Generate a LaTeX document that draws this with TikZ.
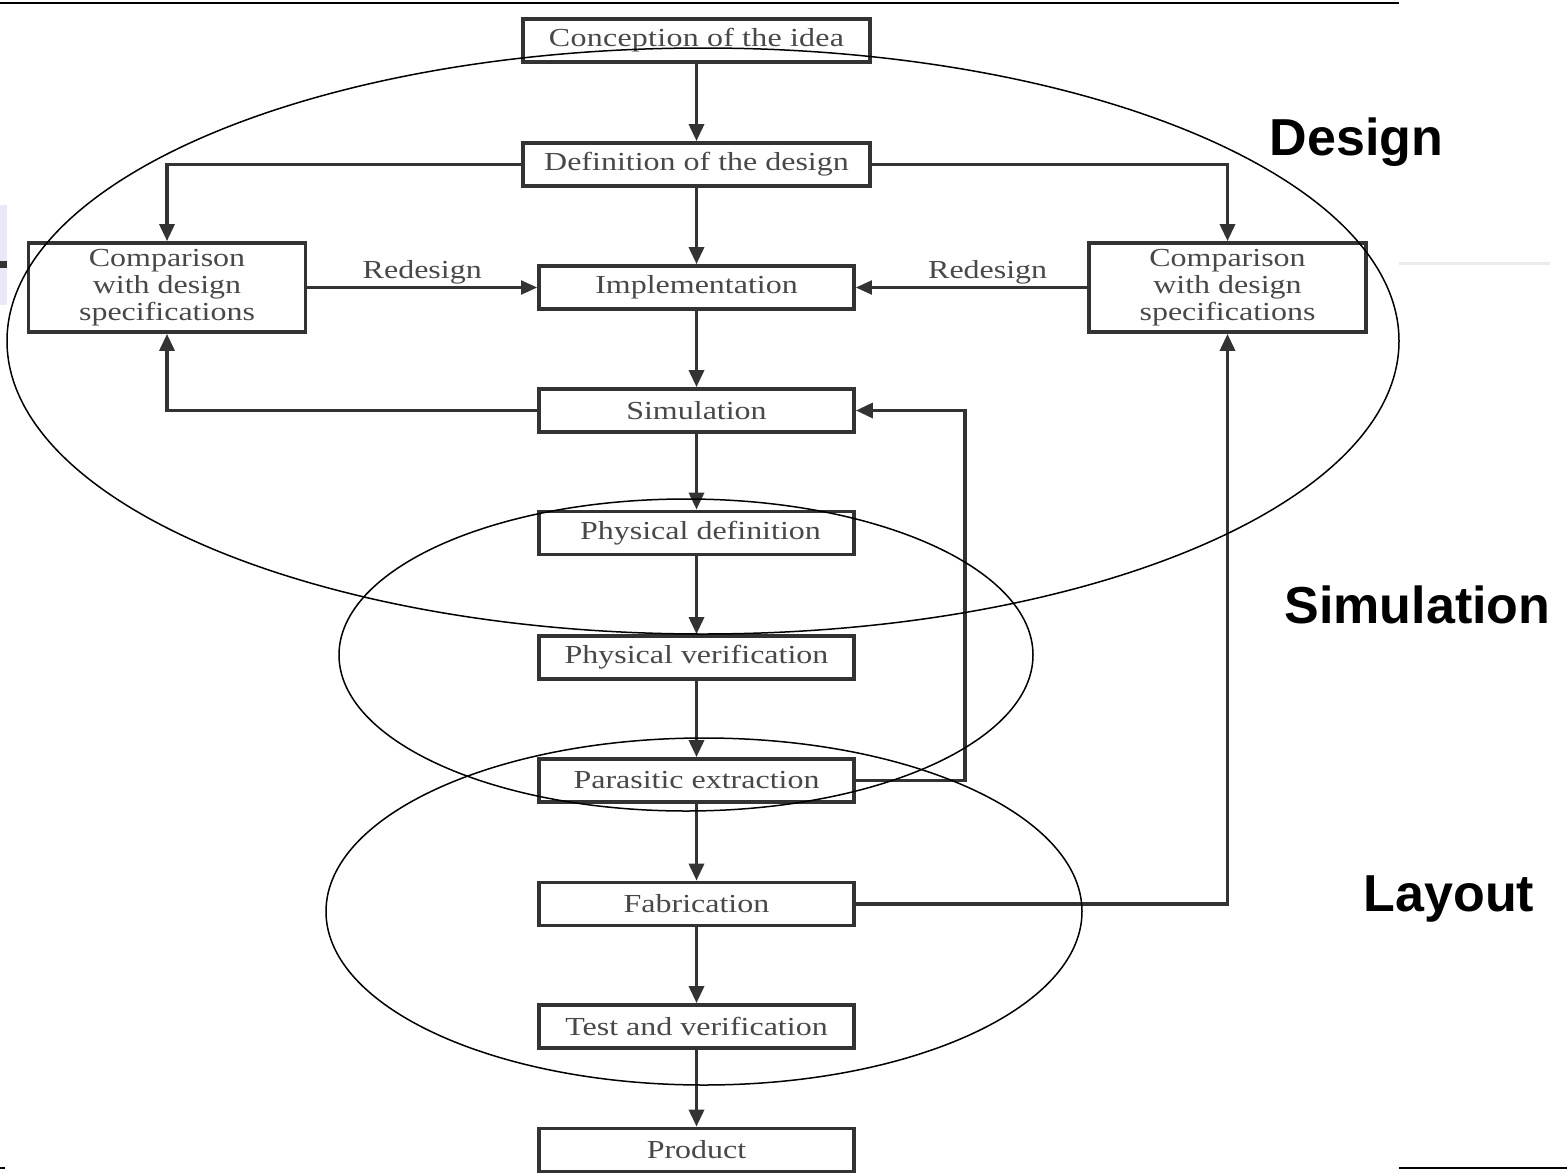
\documentclass[tikz,border=0pt]{standalone}
\usepackage{fontspec}
\setmainfont{Liberation Serif}
\newfontfamily\boxfont[FakeStretch=1.23]{Liberation Serif}
\newfontfamily\labfont{Liberation Sans}
\usetikzlibrary{arrows.meta}
\definecolor{boxcol}{HTML}{333333}
\definecolor{txtcol}{HTML}{484848}
\definecolor{lavender}{RGB}{232,232,248}
\tikzset{
  box/.style={draw=boxcol, line width=3.8pt, fill=white, inner sep=0pt, align=center,
    font=\boxfont\fontsize{26}{27}\selectfont, text=txtcol},
  widebox/.style={box, minimum width=347pt, minimum height=43pt},
  colbox/.style={box, minimum width=315pt, minimum height=43pt},
  cmpbox/.style={box, minimum width=277pt, minimum height=89pt},
  arr/.style={draw=boxcol, line width=3.4pt, -{Triangle[length=17pt,width=15pt]}},
  tarr/.style={draw=boxcol, line width=2.2pt, -{Triangle[length=16pt,width=14pt]}},
  lbl/.style={font=\boxfont\fontsize{26}{27}\selectfont, text=txtcol, inner sep=2pt},
  ell/.style={draw=black, line width=1.5pt},
  biglab/.style={font=\labfont\bfseries\fontsize{52}{54}\selectfont, anchor=base, inner sep=0pt}
}
\begin{document}
\begin{tikzpicture}[x=1pt,y=-1pt]
\useasboundingbox (0,0) rectangle (1567,1173);
% slide artefacts
\draw[line width=2.5pt] (0,3) -- (1399,3);
\draw[line width=2.5pt] (1399,1168) -- (1567,1168);
\draw[line width=2pt] (0,1168) -- (5,1168);
\fill[lavender] (0,205) rectangle (7,305);
\fill[boxcol] (0,261) rectangle (7,268);
\draw[black!8, line width=3pt] (1399,263) -- (1550,263);

% boxes
\node[widebox] (conc) at (696.5,40.5) {\addfontfeature{LetterSpace=1}Conception of the idea};
\node[widebox] (defn) at (696.5,164.5) {Definition of the design};
\node[cmpbox] (cmpL) at (167,287.5) {Comparison\\with design\\specifications};
\node[colbox] (impl) at (696.5,287.5) {Implementation};
\node[cmpbox] (cmpR) at (1227.5,287.5) {Comparison\\with design\\specifications};
\node[colbox] (sim) at (696.5,410.5) {Simulation};
\node[colbox] (pdef) at (696.5,533) {\hspace*{8pt}Physical definition};
\node[colbox] (pver) at (696.5,657.5) {Physical verification};
\node[colbox] (para) at (696.5,780.5) {Parasitic extraction};
\node[colbox] (fab) at (696.5,904) {Fabrication};
\node[colbox] (test) at (696.5,1026.5) {Test and verification};
\node[colbox] (prod) at (696.5,1150) {Product};

% main column
\draw[arr] (conc.south) -- (defn.north);
\draw[arr] (defn.south) -- (impl.north);
\draw[arr] (impl.south) -- (sim.north);
\draw[arr] (sim.south) -- (pdef.north);
\draw[arr] (pdef.south) -- (pver.north);
\draw[arr] (pver.south) -- (para.north);
\draw[arr] (para.south) -- (fab.north);
\draw[arr] (fab.south) -- (test.north);
\draw[arr] (test.south) -- (prod.north);

% branches
\draw[arr] (defn.west) -| (cmpL.north);
\draw[arr] (defn.east) -| (cmpR.north);
\draw[tarr] (cmpL.east) -- node[lbl, above, pos=0.5] {Redesign} (impl.west);
\draw[tarr] (cmpR.west) -- node[lbl, above, pos=0.43] {Redesign} (impl.east);
\draw[arr] (sim.west) -| (cmpL.south);
\draw[arr] (fab.east) -| (cmpR.south);
\coordinate (fb) at (965,600);
\draw[arr] (para.east) -| (fb) |- (sim.east);

% ellipses
\draw[ell] (703,341) ellipse [x radius=696pt, y radius=293pt];
\draw[ell] (686,655) ellipse [x radius=347pt, y radius=156pt];
\draw[ell] (704,911.5) ellipse [x radius=378pt, y radius=173.5pt];

% group labels
\node[biglab] (lDesign) at (1356.5,155) {Design};
\node[biglab] (lSim) at (1417.5,623) {Simulation};
\node[biglab] (lLayout) at (1449,911) {Layout};
\end{tikzpicture}
\end{document}
